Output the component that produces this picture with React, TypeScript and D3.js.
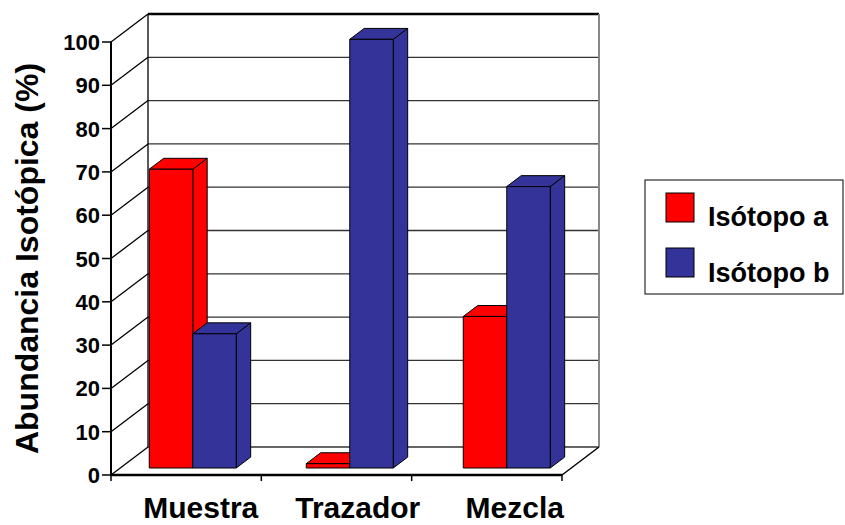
import React from 'react';
import * as d3 from 'd3';

// chart data
const categories = ['Muestra', 'Trazador', 'Mezcla'];
const seriesNames = ['Isótopo a', 'Isótopo b'];
const isotopoA = [69, 1, 35];
const isotopoB = [31, 99, 65];
const yTicks = [0, 10, 20, 30, 40, 50, 60, 70, 80, 90, 100];

const colors = ['#FF0000', '#333399'];
const font = '"Liberation Sans", Arial, sans-serif';

// 3d box geometry
const X0 = 111;
const X1 = 562;
const DX = 37;
const DY = -28;
const BAR_D0 = 0.25;
const BAR_D1 = 0.64;
const BAR_W = 43.5;

const App = () => {
  const width = 845;
  const height = 525;

  const y = d3.scaleLinear().domain([0, 100]).range([475, 42]);
  const xTick = d3.scaleLinear().domain([0, categories.length]).range([X0, X1]);
  const xBar = d3.scaleBand().domain(categories).range([105, 576]);

  const pt = (x: number, v: number, d: number) => [x + d * DX, y(v) + d * DY];
  const poly = (pts: number[][]) => pts.map((p) => p.join(',')).join(' ');

  const series = [isotopoA, isotopoB];

  const bars: React.ReactNode[] = [];
  categories.forEach((cat, i) => {
    const groupLeft = xBar(cat)! + (xBar.bandwidth() - BAR_W * 2) / 2;
    series.forEach((vals, j) => {
      const v = vals[i];
      const xl = groupLeft + j * BAR_W;
      const xr = xl + BAR_W;
      const front = [pt(xl, 0, BAR_D0), pt(xr, 0, BAR_D0), pt(xr, v, BAR_D0), pt(xl, v, BAR_D0)];
      const side = [pt(xr, 0, BAR_D0), pt(xr, 0, BAR_D1), pt(xr, v, BAR_D1), pt(xr, v, BAR_D0)];
      const top = [pt(xl, v, BAR_D0), pt(xr, v, BAR_D0), pt(xr, v, BAR_D1), pt(xl, v, BAR_D1)];
      bars.push(
        <g key={`${cat}-${j}`} stroke="#000" strokeWidth={1} strokeLinejoin="round">
          <polygon points={poly(side)} fill={colors[j]} />
          <polygon points={poly(top)} fill={colors[j]} />
          <polygon points={poly(front)} fill={colors[j]} />
        </g>
      );
    });
  });

  return (
    <svg width={width} height={height} style={{ position: 'absolute', left: 0, top: 0, background: '#fff' }}>
      {/* back wall gridlines */}
      {yTicks.map((t) => (
        <line key={`g${t}`} x1={X0 + DX} x2={X1 + DX} y1={y(t) + DY} y2={y(t) + DY}
          stroke={t === 100 ? '#000' : '#333'} strokeWidth={t === 100 ? 2.5 : 1.3} />
      ))}
      {/* side wall gridlines */}
      {yTicks.map((t) => (
        <line key={`s${t}`} x1={X0} x2={X0 + DX} y1={y(t)} y2={y(t) + DY} stroke="#000" strokeWidth={1.3} />
      ))}
      <line x1={X0 + DX} x2={X0 + DX} y1={y(0) + DY} y2={y(100) + DY} stroke="#000" strokeWidth={1.3} />
      <line x1={X1 + DX} x2={X1 + DX} y1={y(0) + DY} y2={y(100) + DY} stroke="#888" strokeWidth={2} />
      {/* floor */}
      <line x1={X1} x2={X1 + DX} y1={y(0)} y2={y(0) + DY} stroke="#000" strokeWidth={1.5} />

      {bars}

      {/* front axes */}
      <line x1={X0} x2={X0} y1={y(0)} y2={y(100)} stroke="#000" strokeWidth={2} />
      <line x1={X0} x2={X1} y1={y(0)} y2={y(0)} stroke="#000" strokeWidth={2.5} />
      {yTicks.map((t) => (
        <g key={`t${t}`}>
          <line x1={X0 - 9} x2={X0} y1={y(t)} y2={y(t)} stroke="#000" strokeWidth={1.5} />
          <text x={X0 - 11} y={y(t) + 8} textAnchor="end" fontFamily={font} fontWeight="bold" fontSize={22}>
            {t}
          </text>
        </g>
      ))}
      {d3.range(categories.length + 1).map((k) => (
        <line key={`c${k}`} x1={xTick(k)} x2={xTick(k)} y1={y(0)} y2={y(0) + 6} stroke="#000" strokeWidth={1.5} />
      ))}
      {categories.map((cat) => (
        <text key={cat} x={xBar(cat)! + xBar.bandwidth() / 2 + BAR_D0 * DX + 8} y={518} textAnchor="middle"
          fontFamily={font} fontWeight="bold" fontSize={30}>
          {cat}
        </text>
      ))}
      <text transform={`translate(38,${(455 + 62) / 2}) rotate(-90)`} textAnchor="middle"
        fontFamily={font} fontWeight="bold" fontSize={32}>
        Abundancia Isotópica (%)
      </text>

      {/* legend */}
      <rect x={645} y={180} width={198} height={114} fill="#fff" stroke="#000" strokeWidth={1} />
      {seriesNames.map((name, j) => (
        <g key={name}>
          <rect x={666} y={193 + j * 55} width={28} height={29} fill={colors[j]} stroke="#000" strokeWidth={1} />
          <text x={708} y={226 + j * 56} fontFamily={font} fontWeight="bold" fontSize={27}>
            {name}
          </text>
        </g>
      ))}
    </svg>
  );
};

export default App;
